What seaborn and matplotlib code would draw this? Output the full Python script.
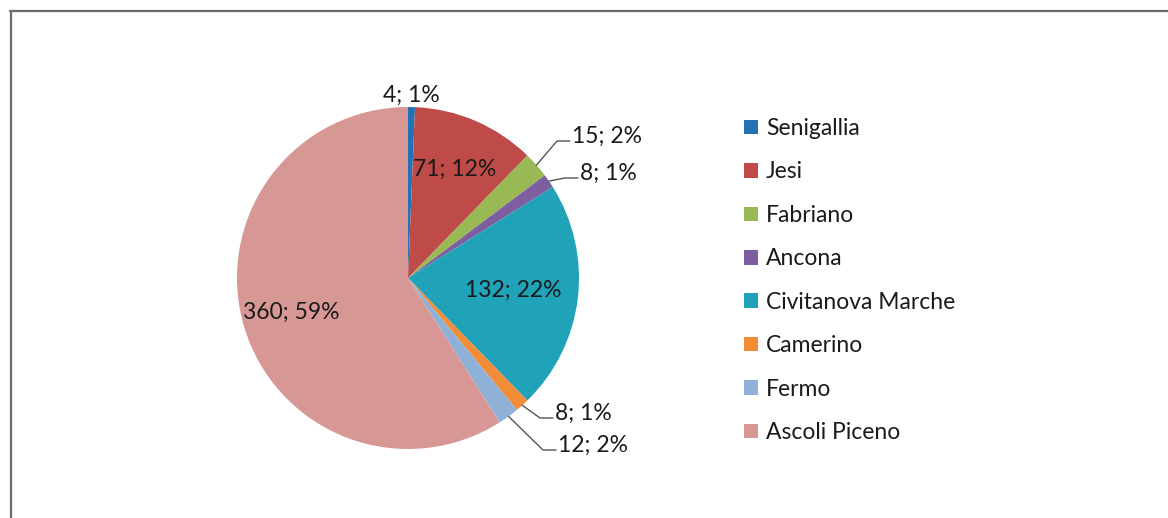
import numpy as np
import matplotlib
matplotlib.use("Agg")
import matplotlib.pyplot as plt
from matplotlib.lines import Line2D
import seaborn as sns

# Dati
citta = ["Senigallia", "Jesi", "Fabriano", "Ancona", "Civitanova Marche",
         "Camerino", "Fermo", "Ascoli Piceno"]
valori = [4, 71, 15, 8, 132, 8, 12, 360]
colori = ["#2471B4", "#BE4B48", "#98B954", "#7D5FA0", "#20A2B9",
          "#F38C37", "#8FB1D8", "#D79895"]

sns.set_theme(style="white")
plt.rcParams["font.family"] = ["Lato", "DejaVu Sans"]

W, H = 1168, 518
fig = plt.figure(figsize=(W / 100, H / 100), dpi=100)
ax = fig.add_axes([0, 0, 1, 1])

cx, cy, R = 408, H - 278, 171
wedges, _ = ax.pie(valori, colors=sns.color_palette(colori), startangle=90,
                   counterclock=False, center=(cx, cy), radius=R,
                   wedgeprops=dict(linewidth=0), frame=True)
ax.set_xlim(0, W)
ax.set_ylim(0, H)
ax.set_aspect("equal")
ax.axis("off")

tot = sum(valori)
etichette = [f"{v}; {round(100 * v / tot)}%" for v in valori]
cum = np.cumsum([0] + valori)
mid = [(cum[i] + cum[i + 1]) / 2 / tot * 2 * np.pi for i in range(len(valori))]

fs = 16.5
col_txt = "#1a1a1a"
# etichette interne
for i, f in [(1, 0.69), (4, 0.62), (7, 0.71)]:
    r = f * R
    ax.text(cx + r * np.sin(mid[i]), cy + r * np.cos(mid[i]), etichette[i],
            ha="center", va="center", fontsize=fs, color=col_txt)

# etichetta senza linea
r = 1.03 * R
ax.text(cx + r * np.sin(mid[0]), cy + r * np.cos(mid[0]), etichette[0],
        ha="center", va="baseline", fontsize=fs, color=col_txt)

# etichette esterne con linea guida (gomito in pixel)
gomiti = {2: (557, 141), 3: (565, 178), 5: (540, 418), 6: (543, 450)}
for i, (gx, gy) in gomiti.items():
    gy = H - gy
    x0, y0 = cx + R * np.sin(mid[i]), cy + R * np.cos(mid[i])
    ax.plot([x0, gx, gx + 13], [y0, gy, gy], color="#555555", lw=1)
    ax.text(gx + 15, gy - 2, etichette[i], ha="left", va="baseline",
            fontsize=fs, color=col_txt)

# cornice
ax.add_line(Line2D([10.5, 10.5], [0, H - 11], color="#6b6b6b", lw=1.6))
ax.add_line(Line2D([10, W], [H - 11, H - 11], color="#6b6b6b", lw=1.6))

leg = ax.legend(wedges, citta, loc="upper left", bbox_to_anchor=(744, H - 118),
                bbox_transform=ax.transData, frameon=False, fontsize=fs,
                handlelength=0.6, handleheight=0.6, handletextpad=0.35,
                labelspacing=0.98, borderpad=0, borderaxespad=0)
for t in leg.get_texts():
    t.set_color(col_txt)

fig.savefig("out.png", dpi=100)
